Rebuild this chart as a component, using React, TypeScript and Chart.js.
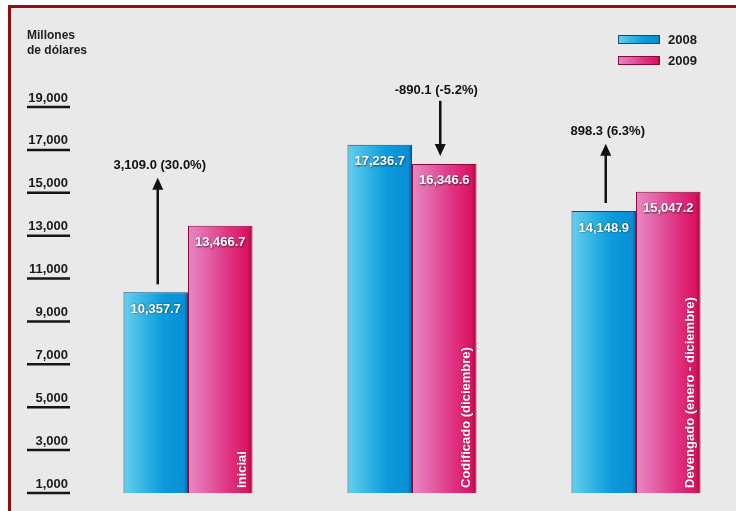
import React, { useEffect, useRef } from "react";
import { Chart, registerables } from "chart.js";

Chart.register(...registerables);

const categories = ["Inicial", "Codificado (diciembre)", "Devengado (enero - diciembre)"];
const seriesNames = ["2008", "2009"];
const values2008 = [10357.7, 17236.7, 14148.9];
const values2009 = [13466.7, 16346.6, 15047.2];
const yTicksMin = 1000;
const yTicksMax = 19000;
const yTickStep = 2000;
const axisTitle = ["Millones", "de dólares"];

const FONT = '"Liberation Sans", Arial, Helvetica, sans-serif';
const CAT_PCT = 0.576;

const blueStops: [number, string][] = [
  [0, "#66cfeb"],
  [0.35, "#2fb2e3"],
  [0.62, "#0b9bdc"],
  [0.94, "#078fd6"],
  [1, "#0a5c9a"],
];
const pinkStops: [number, string][] = [
  [0, "#e689c2"],
  [0.3, "#e262a8"],
  [0.62, "#e03482"],
  [0.93, "#dc1361"],
  [1, "#9a0b3e"],
];
const stopsFor = [blueStops, pinkStops];
const solidFor = ["#0b9bdc", "#e03482"];
const borderFor = ["#0b4f86", "#870a3a"];

function fmt(v: number) {
  return v.toLocaleString("en-US", { minimumFractionDigits: 1, maximumFractionDigits: 1 });
}

function makeGradient(c: CanvasRenderingContext2D, x0: number, x1: number, stops: [number, string][]) {
  const g = c.createLinearGradient(x0, 0, x1, 0);
  stops.forEach(([o, col]) => g.addColorStop(o, col));
  return g;
}

function barFill(ctx: any) {
  const ds = ctx.datasetIndex ?? 0;
  const chart = ctx.chart;
  const xs = chart.scales && chart.scales.x;
  if (ctx.dataIndex === undefined || !xs || !xs.width) return solidFor[ds];
  const catW = xs.width / categories.length;
  const groupW = catW * CAT_PCT;
  const barW = groupW / seriesNames.length;
  const center = xs.getPixelForValue(ctx.dataIndex);
  const left = center - groupW / 2 + barW * ds;
  return makeGradient(chart.ctx, left, left + barW, stopsFor[ds]);
}

const decorPlugin = {
  id: "decor",
  afterDraw(chart: any) {
    const c: CanvasRenderingContext2D = chart.ctx;
    const ys = chart.scales.y;
    c.save();
    // underlines of y ticks
    c.strokeStyle = "#151515";
    c.lineWidth = 2.5;
    ys.ticks.forEach((t: any) => {
      const py = ys.getPixelForValue(t.value);
      c.beginPath();
      c.moveTo(16, py);
      c.lineTo(59, py);
      c.stroke();
    });
    // axis title
    c.fillStyle = "#1e1e1e";
    c.font = `bold 12px ${FONT}`;
    c.textAlign = "left";
    c.textBaseline = "middle";
    axisTitle.forEach((line, i) => c.fillText(line, 16, 28 + i * 15));
    // legend
    chart.data.datasets.forEach((d: any, i: number) => {
      const y0 = 27 + i * 21;
      c.fillStyle = makeGradient(c, 607, 649, stopsFor[i]);
      c.fillRect(607, y0, 42, 9);
      c.strokeStyle = borderFor[i];
      c.lineWidth = 1;
      c.strokeRect(607.5, y0 + 0.5, 41, 8);
      c.fillStyle = "#1a1a1a";
      c.font = `bold 13px ${FONT}`;
      c.textAlign = "left";
      c.textBaseline = "middle";
      c.fillText(d.label, 657, y0 + 5);
    });

    const m0 = chart.getDatasetMeta(0);
    const m1 = chart.getDatasetMeta(1);
    const area = chart.chartArea;
    // value labels
    [m0, m1].forEach((meta: any, di: number) => {
      meta.data.forEach((bar: any, i: number) => {
        const v = chart.data.datasets[di].data[i];
        c.save();
        c.font = `bold 13px ${FONT}`;
        c.textAlign = "center";
        c.textBaseline = "middle";
        c.shadowColor = "rgba(0,0,0,0.65)";
        c.shadowBlur = 2;
        c.shadowOffsetX = 0.5;
        c.shadowOffsetY = 0.5;
        c.fillStyle = "#ffffff";
        c.fillText(fmt(v), bar.x, bar.y + 17);
        c.restore();
      });
    });
    // rotated category names inside 2009 bars
    m1.data.forEach((bar: any, i: number) => {
      c.save();
      c.font = `bold 13px ${FONT}`;
      c.textAlign = "left";
      c.textBaseline = "middle";
      c.fillStyle = "#ffffff";
      c.shadowColor = "rgba(80,0,30,0.6)";
      c.shadowBlur = 1.5;
      c.translate(bar.x + bar.width / 2 - 10, area.bottom - 5);
      c.rotate(-Math.PI / 2);
      c.fillText(chart.data.labels[i], 0, 0);
      c.restore();
    });
    // change arrows
    c.fillStyle = "#111";
    c.strokeStyle = "#111";
    c.lineWidth = 2.5;
    c.font = `bold 13px ${FONT}`;
    c.textAlign = "center";
    c.textBaseline = "middle";
    m0.data.forEach((b0: any, i: number) => {
      const b1 = m1.data[i];
      const v0 = values2008[i];
      const v1 = values2009[i];
      const diff = v1 - v0;
      const pct = (diff / v0) * 100;
      const label = `${fmt(diff)} (${pct.toFixed(1)}%)`;
      if (diff >= 0) {
        const x = b0.x + 2;
        const start = b0.y - 8;
        const tip = b1.y - 48;
        c.beginPath();
        c.moveTo(x, start);
        c.lineTo(x, tip + 8);
        c.stroke();
        c.beginPath();
        c.moveTo(x, tip);
        c.lineTo(x - 5.5, tip + 12);
        c.lineTo(x + 5.5, tip + 12);
        c.closePath();
        c.fill();
        c.fillText(label, x + 2, tip - 12);
      } else {
        const x = b1.x - 4;
        const start = b0.y - 44;
        const tip = b1.y - 8;
        c.beginPath();
        c.moveTo(x, start);
        c.lineTo(x, tip - 8);
        c.stroke();
        c.beginPath();
        c.moveTo(x, tip);
        c.lineTo(x - 5.5, tip - 12);
        c.lineTo(x + 5.5, tip - 12);
        c.closePath();
        c.fill();
        c.fillText(label, x - 4, start - 10);
      }
    });
    c.restore();
  },
};

export default function App() {
  const ref = useRef<HTMLCanvasElement | null>(null);
  useEffect(() => {
    if (!ref.current) return;
    const chart = new Chart(ref.current, {
      type: "bar",
      data: {
        labels: categories,
        datasets: [
          {
            label: seriesNames[0],
            data: values2008,
            backgroundColor: barFill as any,
            borderColor: borderFor[0],
            borderWidth: 1,
            categoryPercentage: CAT_PCT,
            barPercentage: 1,
          },
          {
            label: seriesNames[1],
            data: values2009,
            backgroundColor: barFill as any,
            borderColor: borderFor[1],
            borderWidth: 1,
            categoryPercentage: CAT_PCT,
            barPercentage: 1,
          },
        ],
      },
      options: {
        responsive: false,
        animation: false,
        layout: { padding: { top: 99, left: 0, right: 0, bottom: 18 } },
        plugins: {
          legend: { display: false },
          tooltip: { enabled: false },
          title: { display: false },
        },
        scales: {
          x: { display: false, offset: true },
          y: {
            min: yTicksMin,
            max: yTicksMax,
            afterFit: (s: any) => {
              s.width = 65;
            },
            grid: { display: false, drawTicks: false },
            border: { display: false },
            ticks: {
              stepSize: yTickStep,
              padding: 8,
              labelOffset: -9,
              color: "#1a1a1a",
              font: { family: FONT, size: 13, weight: "bold" },
              callback: (v: any) => Number(v).toLocaleString("en-US"),
            },
          },
        },
      },
      plugins: [decorPlugin],
    });
    return () => chart.destroy();
  }, []);

  return (
    <div
      style={{
        position: "fixed",
        left: 0,
        top: 0,
        width: 736,
        height: 511,
        overflow: "hidden",
        background: "#ffffff",
      }}
    >
      <div
        style={{
          position: "absolute",
          left: 8,
          top: 5,
          width: 780,
          height: 560,
          borderLeft: "3px solid #8f1111",
          borderTop: "3px solid #8f1111",
          background: "#e9e9e9",
        }}
      >
        <canvas ref={ref} width={737} height={503} style={{ display: "block" }} />
      </div>
    </div>
  );
}
